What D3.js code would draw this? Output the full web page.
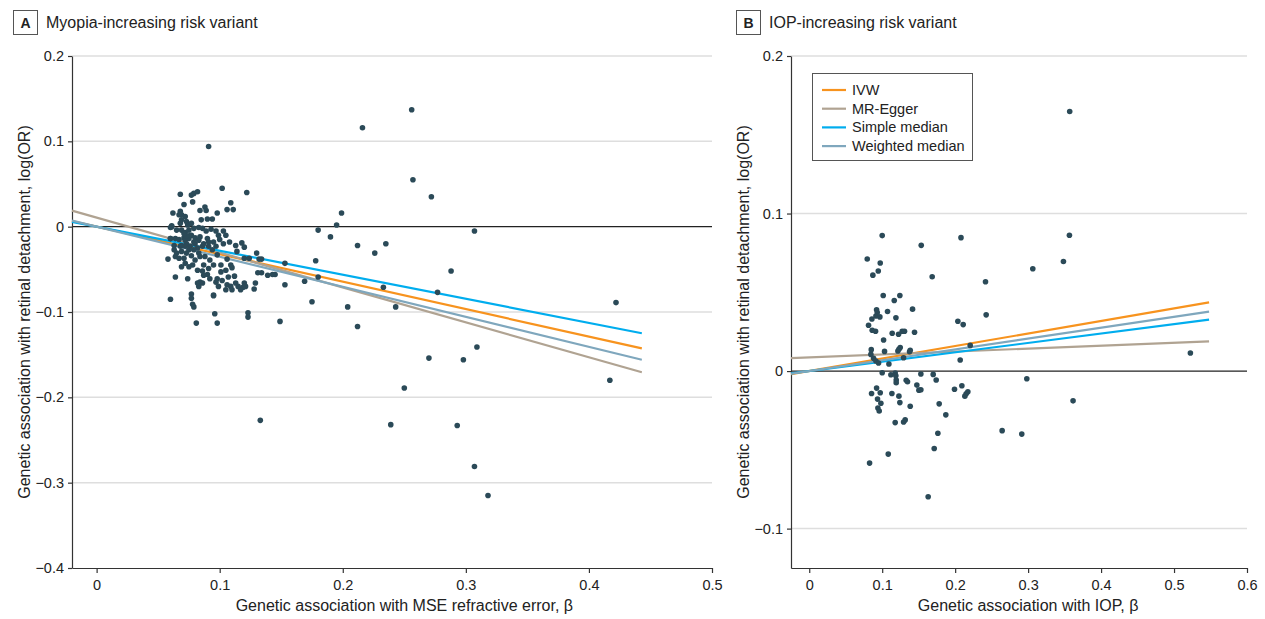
<!DOCTYPE html>
<html>
<head>
<meta charset="utf-8">
<script src="https://cdn.jsdelivr.net/npm/d3@7"></script>
<style>
  body { margin: 0; background: #fff; }
  svg { font-family: "Liberation Sans", Arial, sans-serif; }
</style>
</head>
<body>
<svg id="chart" width="1265" height="619"></svg>
<script>
// Panel A: genetic association with MSE refractive error (beta) vs log(OR)
const myopiaPoints = [
  [0.102, 0.045], [0.122, 0.040], [0.068, 0.038], [0.077, 0.037], [0.079, 0.039], [0.082, 0.041],
  [0.078, 0.029], [0.071, 0.026], [0.109, 0.028], [0.106, 0.020], [0.111, 0.020], [0.088, 0.023],
  [0.089, 0.019], [0.084, 0.019], [0.062, 0.016], [0.068, 0.018], [0.069, 0.014], [0.067, 0.014],
  [0.072, 0.012], [0.098, 0.016], [0.094, 0.009], [0.090, 0.009], [0.085, 0.008], [0.073, 0.006],
  [0.068, 0.004], [0.061, 0.001], [0.060, -0.001], [0.074, 0.002], [0.079, -0.002], [0.083, -0.001],
  [0.077, 0.004], [0.069, 0.008], [0.065, -0.004], [0.086, -0.002], [0.089, -0.005], [0.093, -0.003],
  [0.097, -0.005], [0.103, -0.005], [0.099, -0.010], [0.105, -0.010], [0.060, -0.014], [0.064, -0.014],
  [0.067, -0.015], [0.071, -0.013], [0.072, -0.016], [0.075, -0.014], [0.077, -0.010], [0.080, -0.013],
  [0.084, -0.012], [0.090, -0.014], [0.073, -0.020], [0.069, -0.022], [0.076, -0.023], [0.080, -0.020],
  [0.082, -0.025], [0.086, -0.023], [0.091, -0.023], [0.094, -0.027], [0.063, -0.027], [0.065, -0.031],
  [0.069, -0.029], [0.073, -0.031], [0.067, -0.037], [0.071, -0.037], [0.077, -0.034], [0.083, -0.031],
  [0.088, -0.035], [0.098, -0.033], [0.103, -0.020], [0.100, -0.015], [0.108, -0.018], [0.113, -0.022],
  [0.118, -0.019], [0.120, -0.024], [0.130, -0.031], [0.132, -0.038], [0.134, -0.038], [0.114, -0.029],
  [0.120, -0.037], [0.124, -0.037], [0.106, -0.038], [0.101, -0.045], [0.109, -0.045], [0.110, -0.048],
  [0.105, -0.051], [0.101, -0.053], [0.107, -0.059], [0.112, -0.058], [0.102, -0.063], [0.098, -0.061],
  [0.097, -0.065], [0.092, -0.061], [0.090, -0.056], [0.086, -0.052], [0.082, -0.051], [0.078, -0.045],
  [0.075, -0.047], [0.072, -0.043], [0.064, -0.059], [0.074, -0.061], [0.106, -0.068], [0.109, -0.070],
  [0.113, -0.066], [0.120, -0.066], [0.121, -0.070], [0.115, -0.070], [0.110, -0.074], [0.105, -0.074],
  [0.099, -0.070], [0.095, -0.080], [0.086, -0.066], [0.083, -0.070], [0.084, -0.065], [0.082, -0.066],
  [0.087, -0.057], [0.129, -0.066], [0.128, -0.073], [0.119, -0.071], [0.117, -0.074], [0.134, -0.054],
  [0.139, -0.057], [0.131, -0.054], [0.145, -0.056], [0.143, -0.056], [0.058, -0.038], [0.060, -0.085],
  [0.077, -0.079], [0.077, -0.084], [0.078, -0.091], [0.079, -0.094], [0.095, -0.081], [0.096, -0.102],
  [0.098, -0.113], [0.081, -0.113], [0.123, -0.101], [0.123, -0.106], [0.069, -0.004], [0.072, -0.007],
  [0.075, -0.004], [0.076, -0.010], [0.073, -0.011], [0.071, -0.008], [0.072, -0.023], [0.075, -0.027],
  [0.079, -0.027], [0.079, -0.018], [0.083, -0.016], [0.087, -0.020], [0.091, -0.018], [0.095, -0.018],
  [0.097, -0.023], [0.084, -0.035], [0.080, -0.039], [0.092, -0.039], [0.095, -0.045], [0.087, -0.045],
  [0.091, -0.049], [0.069, -0.047], [0.068, -0.023], [0.063, -0.022], [0.064, -0.035], [0.061, 0.000],
  [0.060, -0.014], [0.199, 0.016], [0.195, 0.002], [0.180, -0.004], [0.190, -0.012], [0.212, -0.022],
  [0.235, -0.020], [0.226, -0.031], [0.307, -0.005], [0.178, -0.040], [0.153, -0.043], [0.153, -0.068],
  [0.169, -0.064], [0.180, -0.059], [0.233, -0.071], [0.288, -0.052], [0.277, -0.077], [0.175, -0.088],
  [0.204, -0.094], [0.243, -0.094], [0.149, -0.111], [0.212, -0.117], [0.309, -0.141], [0.270, -0.154],
  [0.298, -0.156], [0.250, -0.189], [0.239, -0.232], [0.293, -0.233], [0.307, -0.281], [0.318, -0.315],
  [0.133, -0.227], [0.256, 0.137], [0.216, 0.116], [0.257, 0.055], [0.272, 0.035], [0.091, 0.094],
  [0.422, -0.089], [0.417, -0.180]
];

// Panel B: genetic association with IOP (beta) vs log(OR)
const iopPoints = [
  [0.1535, 0.0798], [0.0795, 0.0711], [0.0973, 0.0686], [0.0946, 0.0635], [0.0872, 0.0609],
  [0.1685, 0.0599], [0.2416, 0.0567], [0.1014, 0.0480], [0.1242, 0.0480], [0.1165, 0.0448],
  [0.1416, 0.0393], [0.0923, 0.0389], [0.0932, 0.0372], [0.0914, 0.0350], [0.0968, 0.0344],
  [0.1073, 0.0378], [0.0859, 0.0331], [0.1188, 0.0338], [0.2425, 0.0357], [0.2037, 0.0316],
  [0.2110, 0.0295], [0.0813, 0.0291], [0.0863, 0.0259], [0.0909, 0.0253], [0.1137, 0.0240],
  [0.1224, 0.0234], [0.1274, 0.0253], [0.1306, 0.0253], [0.1443, 0.0246], [0.1019, 0.0197],
  [0.0850, 0.0136], [0.1032, 0.0125], [0.0845, 0.0106], [0.1215, 0.0127], [0.1247, 0.0149],
  [0.1229, 0.0138], [0.1375, 0.0123], [0.1384, 0.0132], [0.2206, 0.0163], [0.1293, 0.0085],
  [0.0882, 0.0081], [0.0914, 0.0064], [0.0950, 0.0051], [0.1092, 0.0045], [0.2069, 0.0070],
  [0.1000, -0.0011], [0.1119, -0.0023], [0.1178, -0.0013], [0.1187, -0.0030], [0.1530, -0.0019],
  [0.1699, -0.0021], [0.1740, -0.0057], [0.1192, -0.0057], [0.1192, -0.0074], [0.1329, -0.0059],
  [0.1347, -0.0068], [0.1475, -0.0089], [0.1503, -0.0121], [0.1530, -0.0119], [0.1991, -0.0115],
  [0.2092, -0.0093], [0.2174, -0.0132], [0.2151, -0.0144], [0.2133, -0.0159], [0.0923, -0.0108],
  [0.0854, -0.0142], [0.0973, -0.0138], [0.1133, -0.0142], [0.1229, -0.0159], [0.0936, -0.0178],
  [0.0982, -0.0204], [0.1242, -0.0200], [0.0941, -0.0234], [0.0959, -0.0253], [0.1384, -0.0223],
  [0.1781, -0.0208], [0.1872, -0.0278], [0.1178, -0.0327], [0.1293, -0.0323], [0.1315, -0.0310],
  [0.1763, -0.0395], [0.2644, -0.0378], [0.2913, -0.0400], [0.1083, -0.0527], [0.0827, -0.0584],
  [0.1713, -0.0491], [0.1630, -0.0798], [0.3570, 0.1648], [0.3566, 0.0862], [0.3484, 0.0696],
  [0.3064, 0.0650], [0.5224, 0.0115], [0.2982, -0.0049], [0.3616, -0.0189], [0.1000, 0.0860],
  [0.2080, 0.0847]
];

// MR estimates: line = intercept + slope * x
const methods = ["IVW", "MR-Egger", "Simple median", "Weighted median"];
const methodColors = ["#f7931e", "#b0a392", "#00adee", "#7fa7bd"];
const myopiaIntercepts = [0, 0.0106, 0, 0];
const myopiaSlopes = [-0.322, -0.409, -0.282, -0.352];
const iopIntercepts = [0, 0.0087, 0, 0];
const iopSlopes = [0.0795, 0.0186, 0.0595, 0.0688];

const myopiaXTicks = [0, 0.1, 0.2, 0.3, 0.4, 0.5];
const myopiaYTicks = [-0.4, -0.3, -0.2, -0.1, 0, 0.1, 0.2];
const iopXTicks = [0, 0.1, 0.2, 0.3, 0.4, 0.5, 0.6];
const iopYTicks = [-0.1, 0, 0.1, 0.2];

const pointColor = "#2b4a58";
const yTitle = "Genetic association with retinal detachment, log(OR)";

const svg = d3.select("#chart");

function fmt(d) {
  return d === 0 ? "0" : d3.format(".1f")(d);
}

function drawPanel(opt) {
  const g = svg.append("g");
  const x = d3.scaleLinear().domain(opt.xDomain).range([opt.left, opt.right]);
  const y = d3.scaleLinear().domain(opt.yDomain).range([opt.bottom, opt.top]);

  // grille horizontale
  g.selectAll(".grid")
    .data(opt.yTicks.filter(d => d !== 0 && d !== opt.yDomain[0]))
    .join("line")
    .attr("x1", opt.left)
    .attr("x2", opt.right)
    .attr("y1", d => y(d))
    .attr("y2", d => y(d))
    .attr("stroke", "#dedede")
    .attr("stroke-width", 1.5);

  // ligne zéro
  g.append("line")
    .attr("x1", opt.left)
    .attr("x2", opt.right)
    .attr("y1", y(0))
    .attr("y2", y(0))
    .attr("stroke", "#222")
    .attr("stroke-width", 1.3);

  // axes
  const xAxis = g.append("g")
    .attr("transform", `translate(0,${opt.bottom})`)
    .call(d3.axisBottom(x).tickValues(opt.xTicks).tickFormat(fmt).tickSize(5).tickSizeOuter(0).tickPadding(7));
  const yAxis = g.append("g")
    .attr("transform", `translate(${opt.left},0)`)
    .call(d3.axisLeft(y).tickValues(opt.yTicks).tickFormat(fmt).tickSize(4).tickSizeOuter(0).tickPadding(4));

  [xAxis, yAxis].forEach(a => {
    a.select(".domain").attr("stroke", "#333").attr("stroke-width", 1.2);
    a.selectAll(".tick line").attr("stroke", "#333").attr("stroke-width", 1.2);
    a.selectAll(".tick text")
      .attr("fill", "#222")
      .style("font-size", "14.5px")
      .style("font-family", "'Liberation Sans', Arial, sans-serif");
  });

  // droites MR
  methods.forEach((m, i) => {
    const x0 = opt.xDomain[0];
    const x1 = opt.lineEnd;
    g.append("line")
      .attr("x1", x(x0))
      .attr("y1", y(opt.intercepts[i] + opt.slopes[i] * x0))
      .attr("x2", x(x1))
      .attr("y2", y(opt.intercepts[i] + opt.slopes[i] * x1))
      .attr("stroke", methodColors[i])
      .attr("stroke-width", 2.2);
  });

  // points
  g.selectAll(".pt")
    .data(opt.points)
    .join("circle")
    .attr("cx", d => x(d[0]))
    .attr("cy", d => y(d[1]))
    .attr("r", 2.8)
    .attr("fill", pointColor);

  // titres d'axes
  g.append("text")
    .attr("x", (x(0) + opt.right) / 2)
    .attr("y", 611)
    .attr("text-anchor", "middle")
    .attr("fill", "#222")
    .style("font-size", "16px")
    .text(opt.xTitle);

  g.append("text")
    .attr("transform", `translate(${opt.left - 42},${(opt.top + opt.bottom) / 2}) rotate(-90)`)
    .attr("text-anchor", "middle")
    .attr("fill", "#222")
    .style("font-size", "16px")
    .text(yTitle);

  // étiquette du panneau
  g.append("rect")
    .attr("x", opt.labelX + 0.5)
    .attr("y", 10.5)
    .attr("width", 24)
    .attr("height", 24)
    .attr("fill", "none")
    .attr("stroke", "#555")
    .attr("stroke-width", 1);
  g.append("text")
    .attr("x", opt.labelX + 12.5)
    .attr("y", 28)
    .attr("text-anchor", "middle")
    .attr("font-weight", "700")
    .attr("fill", "#222")
    .style("font-size", "14px")
    .text(opt.label);
  g.append("text")
    .attr("x", opt.labelX + 33)
    .attr("y", 28)
    .attr("fill", "#222")
    .style("font-size", "16px")
    .text(opt.title);

  return { g, x, y };
}

drawPanel({
  left: 72, right: 712, top: 56, bottom: 568,
  xDomain: [-0.02, 0.5], yDomain: [-0.4, 0.2],
  xTicks: myopiaXTicks, yTicks: myopiaYTicks,
  points: myopiaPoints,
  intercepts: myopiaIntercepts, slopes: myopiaSlopes, lineEnd: 0.443,
  xTitle: "Genetic association with MSE refractive error, β",
  label: "A", labelX: 13, title: "Myopia-increasing risk variant"
});

const panelB = drawPanel({
  left: 791, right: 1247, top: 56, bottom: 568,
  xDomain: [-0.025, 0.6], yDomain: [-0.125, 0.2],
  xTicks: iopXTicks, yTicks: iopYTicks,
  points: iopPoints,
  intercepts: iopIntercepts, slopes: iopSlopes, lineEnd: 0.548,
  xTitle: "Genetic association with IOP, β",
  label: "B", labelX: 736, title: "IOP-increasing risk variant"
});

// légende
const legend = panelB.g.append("g").attr("transform", "translate(812,73)");
legend.append("rect")
  .attr("x", 0.5)
  .attr("y", 0.5)
  .attr("width", 160)
  .attr("height", 87)
  .attr("fill", "#fff")
  .attr("stroke", "#555")
  .attr("stroke-width", 1);

const item = legend.selectAll(".item")
  .data(methods)
  .join("g")
  .attr("transform", (d, i) => `translate(0,${17 + i * 18.7})`);
item.append("line")
  .attr("x1", 10)
  .attr("x2", 34)
  .attr("stroke", (d, i) => methodColors[i])
  .attr("stroke-width", 2.2);
item.append("text")
  .attr("x", 40)
  .attr("dy", "0.35em")
  .attr("fill", "#222")
  .style("font-size", "14.5px")
  .text(d => d);
</script>
</body>
</html>
